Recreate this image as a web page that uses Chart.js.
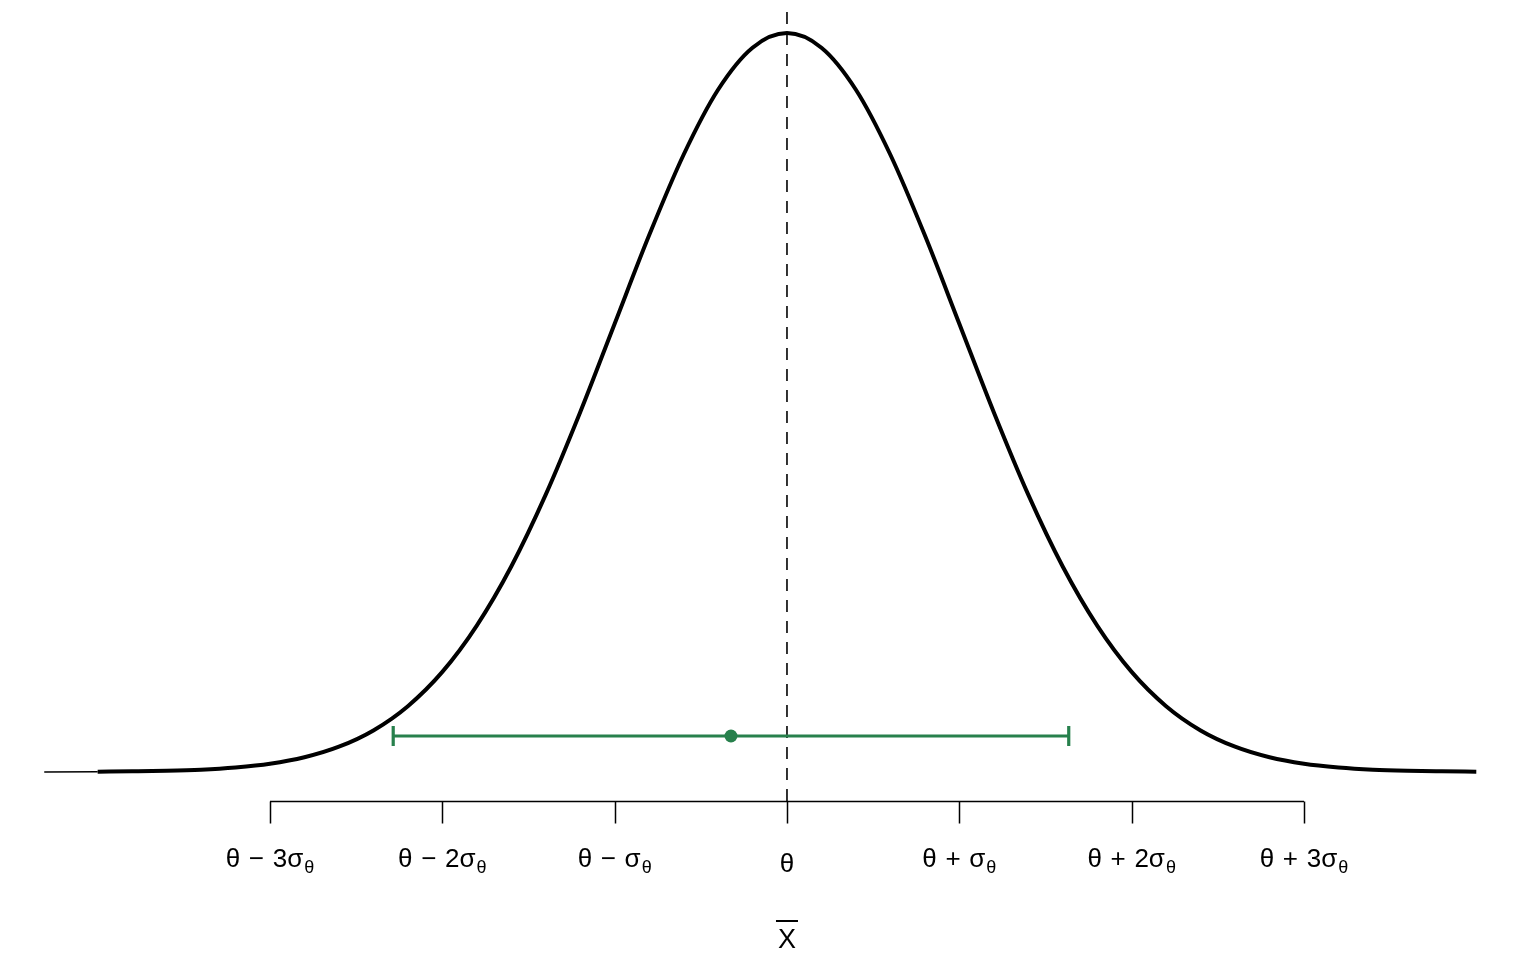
<!DOCTYPE html>
<html>
<head>
<meta charset="utf-8">
<script src="https://cdn.jsdelivr.net/npm/chart.js@4"></script>
<style>
  html, body { margin: 0; padding: 0; background: #fff; }
  #wrap { width: 1536px; height: 960px; position: relative; }
</style>
</head>
<body>
<div id="wrap"><canvas id="normChart"></canvas></div>
<script>
// x in units of sigma from theta, density
const xGrid = [-4, -3.8, -3.6, -3.4, -3.2, -3, -2.8, -2.6, -2.4, -2.2, -2, -1.8, -1.6, -1.4, -1.2, -1, -0.8, -0.6, -0.4, -0.2,
  0, 0.2, 0.4, 0.6, 0.8, 1, 1.2, 1.4, 1.6, 1.8, 2, 2.2, 2.4, 2.6, 2.8, 3, 3.2, 3.4, 3.6, 3.8, 4];
const density = [0.0001, 0.0003, 0.0006, 0.0012, 0.0024, 0.0044, 0.0079, 0.0136, 0.0224, 0.0355, 0.0540, 0.0790, 0.1109, 0.1497, 0.1942, 0.2420, 0.2897, 0.3332, 0.3683, 0.3910,
  0.3989, 0.3910, 0.3683, 0.3332, 0.2897, 0.2420, 0.1942, 0.1497, 0.1109, 0.0790, 0.0540, 0.0355, 0.0224, 0.0136, 0.0079, 0.0044, 0.0024, 0.0012, 0.0006, 0.0003, 0.0001];

// thin stub at the far left
const tailX = [-4.31, -4];
const tailY = [0.0000, 0.0001];

// interval around the sample mean
const estimate = -0.325;
const ciLow = -2.285;
const ciHigh = 1.635;
const ciLevel = 0.0194;

const tickValues = [-3, -2, -1, 0, 1, 2, 3];
const tickMain = ['θ\u2004−\u20043σ', 'θ\u2004−\u20042σ', 'θ\u2004−\u2004σ', 'θ', 'θ\u2004+\u2004σ', 'θ\u2004+\u20042σ', 'θ\u2004+\u20043σ'];
const tickSub = ['θ', 'θ', 'θ', '', 'θ', 'θ', 'θ'];

const yMin = -0.0157;
const yMax = 0.4146;
const green = '#27804c';

const curve = xGrid.map((x, i) => ({ x: x, y: density[i] }));
const tail = tailX.map((x, i) => ({ x: x, y: tailY[i] }));
const ciPts = [{ x: ciLow, y: ciLevel }, { x: ciHigh, y: ciLevel }];

const axisPlugin = {
  id: 'rAxis',
  afterDraw(chart) {
    const ctx = chart.ctx;
    const xs = chart.scales.x;
    const yAxis = Math.round(chart.chartArea.bottom) + 0.5;
    ctx.save();
    ctx.strokeStyle = '#000';
    ctx.lineWidth = 1.5;
    ctx.beginPath();
    ctx.moveTo(xs.getPixelForValue(tickValues[0]), yAxis);
    ctx.lineTo(xs.getPixelForValue(tickValues[tickValues.length - 1]), yAxis);
    tickValues.forEach(v => {
      const px = Math.round(xs.getPixelForValue(v)) + 0.5;
      ctx.moveTo(px, yAxis);
      ctx.lineTo(px, yAxis + 22);
    });
    ctx.stroke();

    ctx.fillStyle = '#000';
    ctx.textBaseline = 'alphabetic';
    ctx.textAlign = 'left';
    const mainFont = '26px "Liberation Sans", Arial, sans-serif';
    const subFont = '18px "Liberation Sans", Arial, sans-serif';
    tickValues.forEach((v, i) => {
      const px = xs.getPixelForValue(v);
      ctx.font = mainFont;
      const wMain = ctx.measureText(tickMain[i]).width;
      ctx.font = subFont;
      const wSub = tickSub[i] ? ctx.measureText(tickSub[i]).width + 1 : 0;
      const start = px - (wMain + wSub) / 2;
      const base = tickSub[i] ? 867 : 872;
      ctx.font = mainFont;
      ctx.fillText(tickMain[i], start, base);
      if (tickSub[i]) {
        ctx.font = subFont;
        ctx.fillText(tickSub[i], start + wMain + 1, base + 6);
      }
    });

    // axis title: X with a bar
    ctx.font = '27px "Liberation Sans", Arial, sans-serif';
    ctx.textAlign = 'center';
    const cx = xs.getPixelForValue(0);
    ctx.fillText('X', cx, 948);
    const w = ctx.measureText('X').width;
    ctx.fillRect(cx - w / 2 - 2, 920, w + 4, 2);
    ctx.restore();
  }
};

new Chart(document.getElementById('normChart'), {
  type: 'line',
  data: {
    datasets: [
      { data: curve, borderColor: '#000', borderWidth: 4, pointRadius: 0, cubicInterpolationMode: 'monotone', order: 2 },
      { data: tail, borderColor: '#000', borderWidth: 1.5, pointRadius: 0, order: 2 },
      { data: [{ x: 0, y: yMin }, { x: 0, y: yMax }], borderColor: '#000', borderWidth: 1.6, borderDash: [12, 9], pointRadius: 0, order: 3 },
      { data: ciPts, borderColor: green, borderWidth: 3.2, pointRadius: 0, order: 1 },
      { data: ciPts, showLine: false, pointStyle: 'line', rotation: 90, pointRadius: 10, pointBorderWidth: 3.2, pointBorderColor: green, order: 1 },
      { data: [{ x: estimate, y: ciLevel }], showLine: false, pointRadius: 6.5, pointBackgroundColor: green, pointBorderColor: green, pointBorderWidth: 0, order: 0 }
    ]
  },
  options: {
    responsive: true,
    maintainAspectRatio: false,
    animation: false,
    devicePixelRatio: 1,
    parsing: false,
    layout: { autoPadding: false, padding: { left: 11.5, right: 8, top: 4, bottom: 159 } },
    plugins: { legend: { display: false }, tooltip: { enabled: false } },
    scales: {
      x: { type: 'linear', min: -4.5, max: 4.3, display: false },
      y: { type: 'linear', min: yMin, max: yMax, display: false }
    }
  },
  plugins: [axisPlugin]
});
</script>
</body>
</html>
